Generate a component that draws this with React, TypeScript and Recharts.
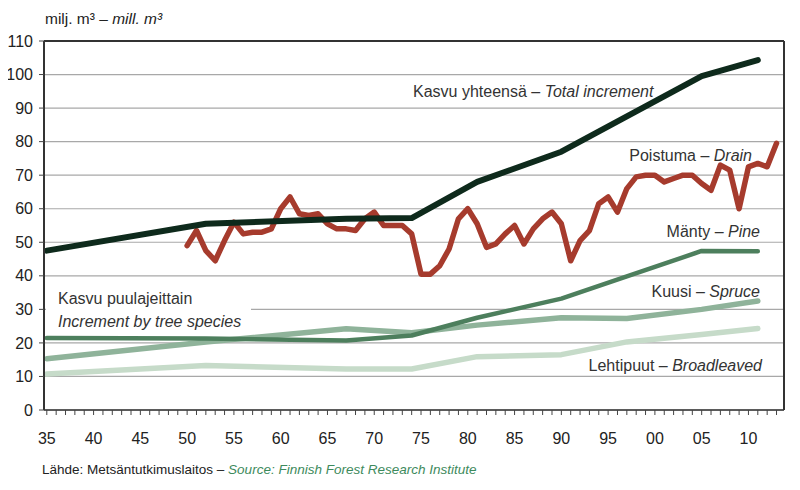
import { CartesianGrid, Line, LineChart, ReferenceLine, XAxis, YAxis } from "recharts";

// inventory years for increment series
const incrementYears = [1935, 1952, 1967, 1974, 1981, 1990, 1997, 2005, 2011];
const totalIncrement = [47.5, 55.5, 57, 57.2, 68, 77, 87.5, 99.5, 104.3];
const pine = [21.5, 21.3, 20.7, 22.2, 27.5, 33.2, 39.8, 47.4, 47.3];
const spruce = [15.3, 20.3, 24.2, 23, 25.3, 27.5, 27.3, 30, 32.5];
const broadleaved = [10.7, 13.3, 12.2, 12.2, 15.9, 16.5, 20.3, 22.5, 24.3];

// annual drain
const drainYears = [
  1950, 1951, 1952, 1953, 1954, 1955, 1956, 1957, 1958, 1959,
  1960, 1961, 1962, 1963, 1964, 1965, 1966, 1967, 1968, 1969,
  1970, 1971, 1972, 1973, 1974, 1975, 1976, 1977, 1978, 1979,
  1980, 1981, 1982, 1983, 1984, 1985, 1986, 1987, 1988, 1989,
  1990, 1991, 1992, 1993, 1994, 1995, 1996, 1997, 1998, 1999,
  2000, 2001, 2002, 2003, 2004, 2005, 2006, 2007, 2008, 2009,
  2010, 2011, 2012, 2013,
];
const drain = [
  49, 53.5, 47.5, 44.5, 50.5, 56, 52.5, 53, 53, 54,
  60, 63.5, 58.5, 58, 58.5, 55.5, 54, 54, 53.5, 57,
  59, 55, 55, 55, 52.5, 40.5, 40.5, 43, 48, 57,
  60, 55.5, 48.5, 49.5, 52.5, 55, 49.5, 54, 57, 59,
  55.5, 44.5, 50.5, 53.5, 61.5, 63.5, 59, 66, 69.5, 70,
  70, 68, 69, 70, 70, 67.5, 65.5, 73, 71.5, 60,
  72.5, 73.5, 72.5, 79.5,
];

const xTicks = [
  1935, 1936, 1937, 1938, 1939, 1940, 1941, 1942, 1943, 1944, 1945, 1946, 1947, 1948, 1949,
  1950, 1951, 1952, 1953, 1954, 1955, 1956, 1957, 1958, 1959, 1960, 1961, 1962, 1963, 1964,
  1965, 1966, 1967, 1968, 1969, 1970, 1971, 1972, 1973, 1974, 1975, 1976, 1977, 1978, 1979,
  1980, 1981, 1982, 1983, 1984, 1985, 1986, 1987, 1988, 1989, 1990, 1991, 1992, 1993, 1994,
  1995, 1996, 1997, 1998, 1999, 2000, 2001, 2002, 2003, 2004, 2005, 2006, 2007, 2008, 2009,
  2010, 2011, 2012, 2013,
];
const yTicks = [0, 10, 20, 30, 40, 50, 60, 70, 80, 90, 100, 110];

const X_MIN = 1934.7;
const X_MAX = 2013.8;

const toPoints = (years: number[], vals: number[]) => years.map((year, i) => ({ year, value: vals[i] }));

const font = '"Liberation Sans", Arial, sans-serif';

function YearTick(props: any) {
  const { x, y, payload } = props;
  const yr: number = payload.value;
  return (
    <g>
      <line x1={x} x2={x} y1={y} y2={y + 5} stroke="#444" strokeWidth={1} />
      {yr % 5 === 0 && (
        <text x={x} y={y + 34} textAnchor="middle" fontSize={16} fill="#222" fontFamily={font}>
          {String(yr % 100).padStart(2, "0")}
        </text>
      )}
    </g>
  );
}

const lineProps = {
  dataKey: "value",
  type: "linear" as const,
  dot: false,
  activeDot: false,
  isAnimationActive: false,
  strokeLinecap: "round" as const,
  strokeLinejoin: "round" as const,
};

const note: React.CSSProperties = {
  position: "absolute",
  fontSize: 16,
  color: "#333",
  whiteSpace: "nowrap",
  lineHeight: "18px",
};

export default function App() {
  return (
    <div style={{ position: "relative", width: 800, height: 490, margin: -8, fontFamily: font, background: "#fff" }}>
      <div style={{ position: "absolute", left: 45, top: 10, fontSize: 15.5, color: "#222" }}>
        milj. m³ – <i>mill. m³</i>
      </div>
      <LineChart width={800} height={490} margin={{ top: 41, right: 16, bottom: 0, left: 0 }}>
        <CartesianGrid vertical={false} stroke="#a8a8a8" strokeWidth={1.2} />
        <XAxis
          type="number"
          dataKey="year"
          domain={[X_MIN, X_MAX]}
          allowDataOverflow
          ticks={xTicks}
          interval={0}
          tick={<YearTick />}
          tickLine={false}
          tickSize={0}
          tickMargin={0}
          axisLine={{ stroke: "#333", strokeWidth: 1.5 }}
          height={80}
        />
        <YAxis
          type="number"
          domain={[0, 110]}
          ticks={yTicks}
          interval={0}
          width={44}
          tickSize={5}
          tickMargin={6}
          tickLine={{ stroke: "#444" }}
          axisLine={{ stroke: "#333", strokeWidth: 2 }}
          tick={{ fontSize: 16, fill: "#222", fontFamily: font }}
        />
        <ReferenceLine y={110} stroke="#333" strokeWidth={2} />
        <ReferenceLine x={X_MAX} stroke="#333" strokeWidth={2} />
        <Line {...lineProps} data={toPoints(incrementYears, broadleaved)} stroke="#c6dbc9" strokeWidth={5.5} />
        <Line {...lineProps} data={toPoints(incrementYears, spruce)} stroke="#8fb39a" strokeWidth={5.5} />
        <Line {...lineProps} data={toPoints(incrementYears, pine)} stroke="#4d7f5d" strokeWidth={4.5} />
        <Line {...lineProps} data={toPoints(drainYears, drain)} stroke="#a63b2d" strokeWidth={5.5} />
        <Line {...lineProps} data={toPoints(incrementYears, totalIncrement)} stroke="#0e2a1c" strokeWidth={6} />
      </LineChart>

      <div style={{ ...note, left: 413, top: 83 }}>
        Kasvu yhteensä – <i>Total increment</i>
      </div>
      <div style={{ ...note, right: 48, top: 147 }}>
        Poistuma – <i>Drain</i>
      </div>
      <div style={{ ...note, right: 40, top: 223 }}>
        Mänty – <i>Pine</i>
      </div>
      <div style={{ ...note, right: 40, top: 283 }}>
        Kuusi – <i>Spruce</i>
      </div>
      <div style={{ ...note, right: 38, top: 357 }}>
        Lehtipuut – <i>Broadleaved</i>
      </div>
      <div style={{ ...note, left: 46, top: 286, background: "#fff", padding: "1px 10px 0 12px", lineHeight: "23px" }}>
        Kasvu puulajeittain
        <br />
        <i>Increment by tree species</i>
      </div>
      <div style={{ position: "absolute", left: 42, top: 462, fontSize: 13.5, color: "#222", whiteSpace: "nowrap" }}>
        Lähde: Metsäntutkimuslaitos – <i style={{ color: "#3d8a5c" }}>Source: Finnish Forest Research Institute</i>
      </div>
    </div>
  );
}
